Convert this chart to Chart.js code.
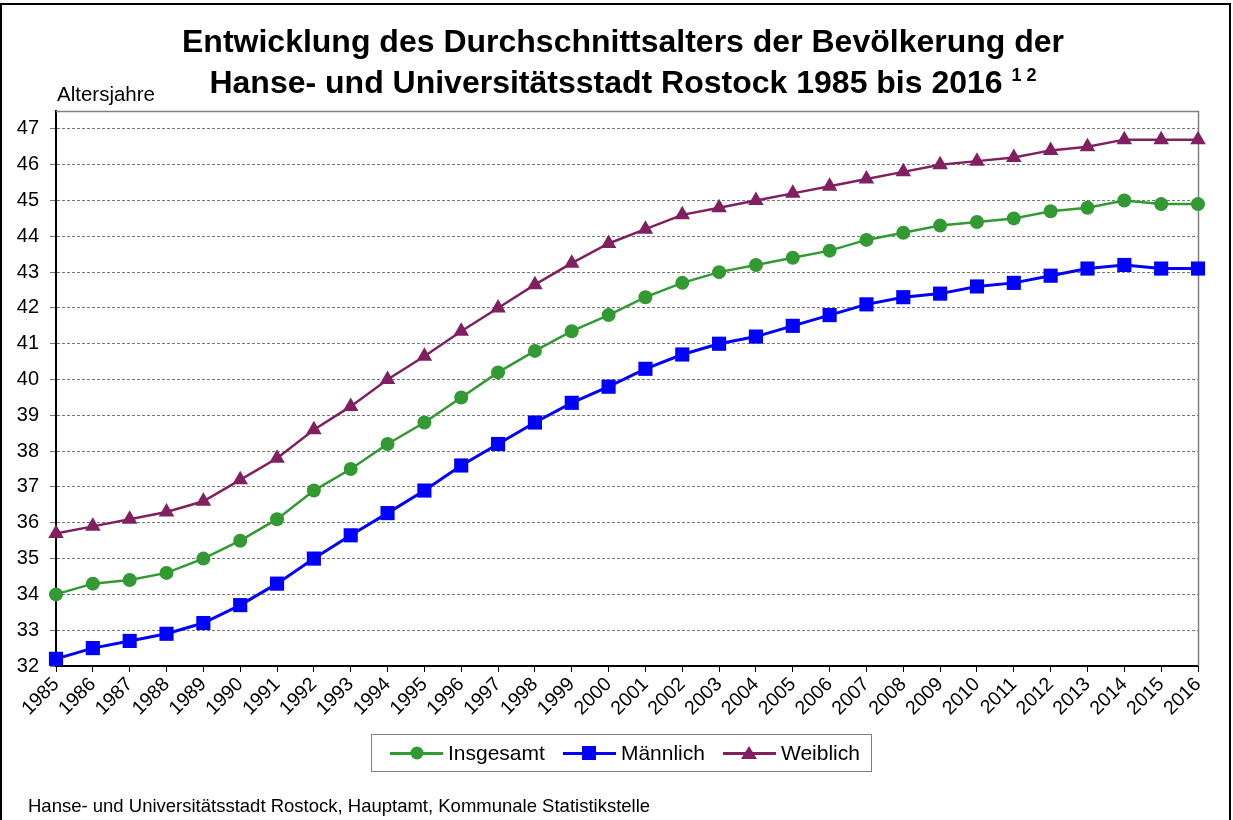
<!DOCTYPE html>
<html>
<head>
<meta charset="utf-8">
<script src="https://cdn.jsdelivr.net/npm/chart.js@4"></script>
<style>
  body { margin: 0; background: #fff; font-family: "Liberation Sans", Arial, sans-serif; }
  #wrap { position: relative; width: 1233px; height: 820px; overflow: hidden; }
  #frame { position: absolute; left: 0; top: 3px; width: 1227px; height: 830px; border: 2px solid #000; }
  canvas { position: absolute; left: 0; top: 0; }
  .title { position: absolute; left: 0; width: 1246px; text-align: center; font-weight: bold; font-size: 32px; line-height: 36px; white-space: nowrap; }
  .title sup { font-size: 18px; vertical-align: 12px; }
  #ylabel { position: absolute; left: 57px; top: 82px; font-size: 20.5px; }
  #source { position: absolute; left: 28px; top: 795px; font-size: 18.5px; }
  #legend { position: absolute; left: 371px; top: 734px; width: 499px; height: 36px; border: 1px solid #808080;
            display: flex; align-items: center; font-size: 21px; }
  .item { display: flex; align-items: center; }
  .sym { position: relative; width: 53px; height: 20px; margin-right: 5px; }
  .sym .ln { position: absolute; left: 0; right: 0; top: 9px; }
  .sym .mk { position: absolute; left: 50%; top: 50%; transform: translate(-50%, -50%); }
</style>
</head>
<body>
<div id="wrap">
  <div id="frame"></div>
  <canvas id="myChart" width="1233" height="820"></canvas>
  <div class="title" style="top:23px">Entwicklung des Durchschnittsalters der Bevölkerung der</div>
  <div class="title" style="top:57px">Hanse- und Universitätsstadt Rostock 1985 bis 2016 <sup>1 2</sup></div>
  <div id="ylabel">Altersjahre</div>
  <div id="legend"></div>
  <div id="source">Hanse- und Universitätsstadt Rostock, Hauptamt, Kommunale Statistikstelle</div>
</div>
<script>
var years = ["1985","1986","1987","1988","1989","1990","1991","1992","1993","1994","1995","1996","1997","1998","1999","2000",
  "2001","2002","2003","2004","2005","2006","2007","2008","2009","2010","2011","2012","2013","2014","2015","2016"];

var insgesamt = [34.0,34.3,34.4,34.6,35.0,35.5,36.1,36.9,37.5,38.2,38.8,39.5,40.2,40.8,41.35,41.8,
  42.3,42.7,43.0,43.2,43.4,43.6,43.9,44.1,44.3,44.4,44.5,44.7,44.8,45.0,44.9,44.9];
var maennlich = [32.2,32.5,32.7,32.9,33.2,33.7,34.3,35.0,35.65,36.27,36.9,37.6,38.2,38.8,39.35,39.8,
  40.3,40.7,41.0,41.2,41.5,41.8,42.1,42.3,42.4,42.6,42.7,42.9,43.1,43.2,43.1,43.1];
var weiblich = [35.7,35.9,36.1,36.3,36.6,37.2,37.8,38.6,39.25,40.0,40.65,41.35,42.0,42.65,43.25,43.8,
  44.2,44.6,44.8,45.0,45.2,45.4,45.6,45.8,46.0,46.1,46.2,46.4,46.5,46.7,46.7,46.7];

var yTicks = [32,33,34,35,36,37,38,39,40,41,42,43,44,45,46,47];

var seriesNames = ["Insgesamt", "Männlich", "Weiblich"];
var seriesColors = ["#339933", "#0000ff", "#802060"];

// top and right edge of the plot box
var plotFrame = {
  id: "plotFrame",
  beforeDatasetsDraw: function (chart) {
    var a = chart.chartArea, ctx = chart.ctx;
    ctx.save();
    ctx.strokeStyle = "#808080";
    ctx.lineWidth = 1.5;
    ctx.beginPath();
    ctx.moveTo(a.left, a.top + 0.5);
    ctx.lineTo(a.right + 0.5, a.top + 0.5);
    ctx.lineTo(a.right + 0.5, a.bottom);
    ctx.stroke();
    ctx.restore();
  }
};

function createChart() {
  var ctx = document.getElementById("myChart").getContext("2d");
  return new Chart(ctx, {
    type: "line",
    data: {
      labels: years,
      datasets: [
        { label: seriesNames[0], data: insgesamt, borderColor: seriesColors[0], backgroundColor: seriesColors[0],
          borderWidth: 2.5, pointStyle: "circle", pointRadius: 7, pointBorderWidth: 0 },
        { label: seriesNames[1], data: maennlich, borderColor: seriesColors[1], backgroundColor: seriesColors[1],
          borderWidth: 3, pointStyle: "rect", pointRadius: 10, pointBorderWidth: 0 },
        { label: seriesNames[2], data: weiblich, borderColor: seriesColors[2], backgroundColor: seriesColors[2],
          borderWidth: 2.5, pointStyle: "triangle", pointRadius: 9, pointBorderWidth: 0 }
      ]
    },
    options: {
      responsive: false,
      animation: false,
      layout: { padding: { left: 0, top: 111, right: 35, bottom: 94 } },
      plugins: { legend: { display: false }, tooltip: { enabled: false } },
      scales: {
        x: {
          offset: false,
          afterFit: function (s) { s.height = 60; },
          grid: { drawOnChartArea: false, drawTicks: true, tickLength: 6, color: "#000" },
          border: { color: "#000", width: 2 },
          ticks: { autoSkip: false, maxRotation: 45, minRotation: 45, padding: 1, color: "#000",
            font: { family: "'Liberation Sans', Arial", size: 19.5 } }
        },
        y: {
          min: 32,
          max: 47.5,
          afterFit: function (s) { s.width = 56; },
          afterBuildTicks: function (s) { s.ticks = yTicks.map(function (v) { return { value: v }; }); },
          grid: { color: "#777", lineWidth: 1, tickLength: 6 },
          border: { color: "#000", width: 2, dash: [3, 2] },
          ticks: { padding: 11, color: "#000", font: { family: "'Liberation Sans', Arial", size: 20 } }
        }
      }
    },
    plugins: [plotFrame]
  });
}

function buildLegend() {
  var box = document.getElementById("legend");
  var marks = [
    '<div class="mk" style="width:13px;height:13px;border-radius:7px;background:' + seriesColors[0] + '"></div>',
    '<div class="mk" style="width:14px;height:14px;background:' + seriesColors[1] + '"></div>',
    '<div class="mk" style="width:0;height:0;border-left:8px solid transparent;border-right:8px solid transparent;border-bottom:13px solid ' + seriesColors[2] + ';top:3px;transform:translateX(-50%)"></div>'
  ];
  var widths = [2.5, 3, 2.5];
  var gaps = [18, 18, 18];
  for (var i = 0; i < seriesNames.length; i++) {
    var item = document.createElement("div");
    item.className = "item";
    item.style.marginLeft = gaps[i] + "px";
    item.innerHTML = '<div class="sym"><div class="ln" style="height:' + widths[i] + 'px;background:' + seriesColors[i] + '"></div>' +
      marks[i] + '</div><span>' + seriesNames[i] + '</span>';
    box.appendChild(item);
  }
}

createChart();
buildLegend();
</script>
</body>
</html>
